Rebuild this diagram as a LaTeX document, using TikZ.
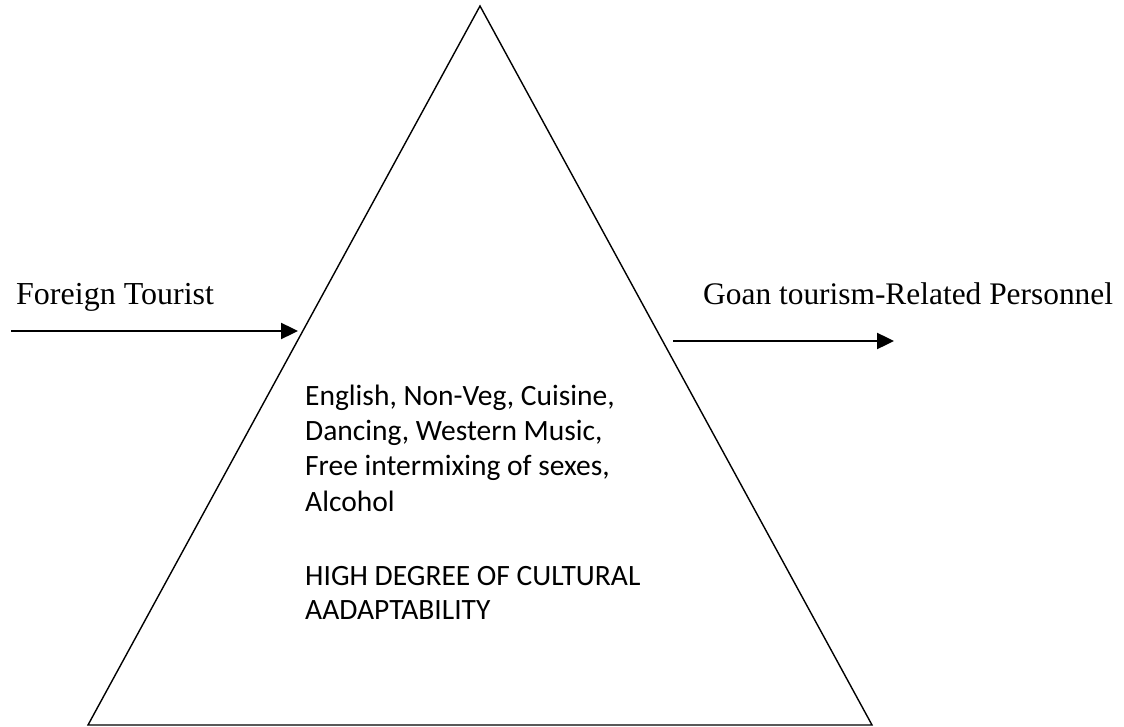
\documentclass[tikz,border=0pt]{standalone}
\usepackage{fontspec}
\setmainfont{Liberation Serif}
\newfontfamily\calib{Carlito}
\usetikzlibrary{arrows.meta}
\begin{document}
\begin{tikzpicture}[x=1pt,y=-1pt,
  tri/.style={draw=black,line width=1.4pt,line join=miter},
  arr/.style={draw=black,line width=2.4pt,-{Triangle[length=17pt,width=16pt]}},
  serlab/.style={anchor=base west,inner sep=0pt,font=\fontsize{32}{36}\selectfont},
  innerlab/.style={anchor=base west,inner sep=0pt,font=\calib\fontsize{29.5}{34}\selectfont}]
\useasboundingbox (0,0) rectangle (1124,727);
\coordinate (apex) at (480,6);
\coordinate (bl) at (88,725);
\coordinate (br) at (872,725);
\draw[tri] (apex) -- (bl) -- (br) -- cycle;
\coordinate (la) at (11,331);
\coordinate (lb) at (298,331);
\coordinate (ra) at (673,341);
\coordinate (rb) at (894,341);
\draw[arr] (la) -- (lb);
\draw[arr] (ra) -- (rb);
\node[serlab] (ft) at (16,305) {Foreign Tourist};
\node[serlab,font=\fontsize{31.4}{36}\selectfont] (gp) at (703,305) {Goan tourism-Related Personnel};
\node[innerlab] (l1) at (305,405) {English, Non-Veg, Cuisine,};
\node[innerlab] (l2) at (305,440) {Dancing, Western Music,};
\node[innerlab] (l3) at (305,475) {Free intermixing of sexes,};
\node[innerlab] (l4) at (305,511) {Alcohol};
\node[innerlab] (h1) at (305,585) {HIGH DEGREE OF CULTURAL};
\node[innerlab] (h2) at (305,619) {AADAPTABILITY};
\end{tikzpicture}
\end{document}
